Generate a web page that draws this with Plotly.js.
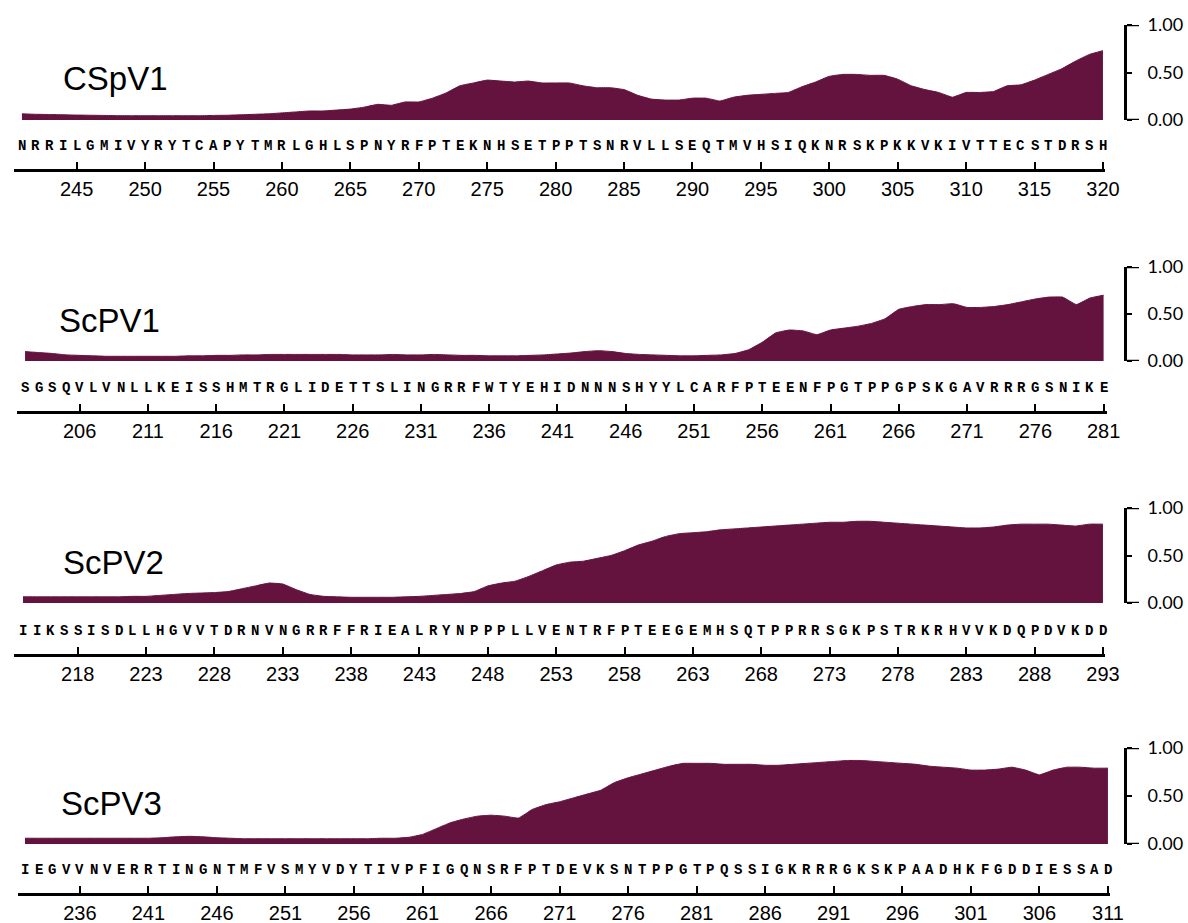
<!DOCTYPE html>
<html>
<head>
<meta charset="utf-8">
<script src="https://cdn.plot.ly/plotly-3.0.1.min.js"></script>
<style>html,body{margin:0;padding:0;background:#fff;}#chart{width:1188px;height:923px;}</style>
</head>
<body>
<div id="chart"></div>
<script>
// ---------- DATA ----------
const names = ["CSpV1", "ScPV1", "ScPV2", "ScPV3"];
const starts = [241, 202, 214, 232];

const seqCSpV1 = "NRRILGMIVYRYTCAPYTMRLGHLSPNYRFPTEKNHSETPPTSNRVLLSEQTMVHSIQKNRSKPKKVKIVTTECSTDRSH";
const seqScPV1 = "SGSQVLVNLLKEISSHMTRGLIDETTSLINGRRFWTYEHIDNNNSHYYLCARFPTEENFPGTPPGPSKGAVRRRGSNIKE";
const seqScPV2 = "IIKSSISDLLHGVVTDRNVNGRRFFRIEALRYNPPPLLVENTRFPTEEGEMHSQTPPRRSGKPSTRKRHVVKDQPDVKDD";
const seqScPV3 = "IEGVVNVERRTINGNTMFVSMYVDYTIVPFIGQNSRFPTDEVKSNTPPGTPQSSIGKRRRGKSKPAADHKFGDDIESSAD";

const valsCSpV1 = [0.065,0.06,0.058,0.055,0.052,0.05,0.048,0.046,0.045,0.045,
  0.045,0.045,0.045,0.045,0.048,0.05,0.055,0.06,0.065,0.075,
  0.085,0.095,0.095,0.105,0.115,0.135,0.165,0.155,0.19,0.19,
  0.23,0.285,0.36,0.39,0.42,0.41,0.40,0.41,0.39,0.39,
  0.39,0.36,0.34,0.34,0.32,0.26,0.22,0.21,0.21,0.23,
  0.23,0.20,0.24,0.26,0.27,0.28,0.29,0.35,0.40,0.46,
  0.48,0.48,0.47,0.47,0.43,0.36,0.32,0.29,0.24,0.29,
  0.29,0.30,0.36,0.37,0.42,0.48,0.54,0.62,0.69,0.73];
const valsScPV1 = [0.10,0.09,0.08,0.065,0.06,0.055,0.05,0.05,0.05,0.05,
  0.05,0.05,0.055,0.055,0.06,0.06,0.065,0.065,0.07,0.07,
  0.07,0.07,0.07,0.07,0.065,0.065,0.065,0.07,0.065,0.065,
  0.07,0.065,0.06,0.06,0.055,0.055,0.055,0.06,0.065,0.075,
  0.085,0.10,0.11,0.10,0.08,0.07,0.065,0.06,0.055,0.055,
  0.06,0.065,0.08,0.12,0.20,0.30,0.33,0.32,0.28,0.33,
  0.35,0.37,0.40,0.45,0.55,0.58,0.60,0.60,0.61,0.57,
  0.57,0.58,0.60,0.63,0.66,0.68,0.68,0.60,0.67,0.70];
const valsScPV2 = [0.065,0.065,0.065,0.065,0.065,0.065,0.065,0.065,0.07,0.07,
  0.08,0.09,0.10,0.105,0.11,0.12,0.15,0.18,0.21,0.20,
  0.14,0.09,0.07,0.065,0.06,0.06,0.06,0.06,0.065,0.07,
  0.08,0.09,0.10,0.12,0.18,0.21,0.23,0.28,0.34,0.40,
  0.43,0.44,0.47,0.50,0.55,0.61,0.65,0.70,0.73,0.74,
  0.75,0.77,0.78,0.79,0.80,0.81,0.82,0.83,0.84,0.85,
  0.85,0.86,0.86,0.85,0.84,0.83,0.82,0.81,0.80,0.79,
  0.79,0.80,0.82,0.83,0.83,0.83,0.82,0.81,0.83,0.83];
const valsScPV3 = [0.06,0.06,0.06,0.06,0.06,0.06,0.06,0.06,0.06,0.06,
  0.065,0.075,0.08,0.075,0.065,0.06,0.055,0.055,0.055,0.055,
  0.055,0.055,0.055,0.055,0.055,0.055,0.06,0.06,0.07,0.10,
  0.16,0.22,0.26,0.29,0.30,0.29,0.27,0.36,0.41,0.44,
  0.48,0.52,0.56,0.64,0.69,0.73,0.77,0.81,0.84,0.84,
  0.84,0.83,0.83,0.83,0.82,0.82,0.83,0.84,0.85,0.86,
  0.87,0.87,0.86,0.85,0.84,0.83,0.81,0.80,0.79,0.77,
  0.77,0.78,0.80,0.77,0.72,0.77,0.80,0.80,0.79,0.79];

const seqs = [seqCSpV1, seqScPV1, seqScPV2, seqScPV3];
const vals = [valsCSpV1, valsScPV1, valsScPV2, valsScPV3];
const yTickVals = [0, 0.5, 1];
const yTickText = ["0.00", "0.50", "1.00"];

// ---------- LAYOUT GEOMETRY (pixels) ----------
const W = 1188, H = 923;
const geom = [
  {top: 25,  base: 120, seqY: 146, axisY: 170, labX: 61, labY: 78,  dom: [14, 1105], range: [240.42, 320.15]},
  {top: 267, base: 361, seqY: 388, axisY: 412, labX: 57, labY: 321, dom: [17, 1107], range: [201.41, 281.25]},
  {top: 508, base: 603, seqY: 631, axisY: 655, labX: 61, labY: 562, dom: [14, 1105], range: [213.34, 293.15]},
  {top: 748, base: 844, seqY: 870, axisY: 894, labX: 59, labY: 803, dom: [18, 1110], range: [231.49, 311.15]}
];
const px = x => x / W;
const py = y => 1 - y / H;
const COLOR = "#63133d";

const traces = [];
const annotations = [];
const shapes = [];
const layout = {
  width: W, height: H, autosize: false,
  margin: {l: 0, r: 0, t: 0, b: 0},
  paper_bgcolor: "#fff", plot_bgcolor: "rgba(0,0,0,0)",
  showlegend: false,
  annotations: annotations,
  shapes: shapes
};

for (let k = 0; k < 4; k++) {
  const g = geom[k];
  const n = vals[k].length;
  const xs = vals[k].map((_, i) => starts[k] + i);
  const xa = k === 0 ? "x" : "x" + (k + 1);
  const ya = k === 0 ? "y" : "y" + (k + 1);
  const xName = k === 0 ? "xaxis" : "xaxis" + (k + 1);
  const yName = k === 0 ? "yaxis" : "yaxis" + (k + 1);

  traces.push({
    type: "scatter", mode: "lines", x: xs, y: vals[k],
    xaxis: xa, yaxis: ya,
    fill: "tozeroy", fillcolor: COLOR,
    line: {color: COLOR, width: 1, shape: "spline", smoothing: 0.3},
    hoverinfo: "skip"
  });

  const tickvals = [];
  for (let v = starts[k] + 4; v <= starts[k] + n - 1; v += 5) tickvals.push(v);

  layout[xName] = {
    domain: [px(g.dom[0]), px(g.dom[1])],
    range: g.range,
    anchor: "free",
    position: py(g.axisY),
    showgrid: false, zeroline: false,
    showline: true, linecolor: "#000", linewidth: 3,
    ticks: "inside", ticklen: 7, tickwidth: 2, tickcolor: "#000",
    tickmode: "array", tickvals: tickvals, ticktext: tickvals.map(String),
    tickfont: {family: "Liberation Sans, Arial, sans-serif", size: 20, color: "#000"},
    ticklabelstandoff: 0,
    fixedrange: true
  };
  layout[yName] = {
    domain: [py(g.base), py(g.top)],
    range: [0, 1],
    anchor: "free",
    position: px(1125),
    side: "right",
    showgrid: false, zeroline: false,
    showline: true, linecolor: "#000", linewidth: 3,
    ticks: "outside", ticklen: 5, tickwidth: 2, tickcolor: "#000",
    tickmode: "array", tickvals: yTickVals, ticktext: yTickText,
    tickfont: {family: "Lato, Open Sans, sans-serif", size: 18, color: "#000"},
    ticklabelstandoff: 12,
    fixedrange: true
  };
  // longer end ticks of the bracket-shaped y axis
  [0, 1].forEach(v => shapes.push({
    type: "line", xref: "paper", yref: ya, x0: px(1124), x1: px(1139), y0: v, y1: v,
    line: {color: "#000", width: 2.5}
  }));

  // panel name
  annotations.push({
    text: names[k], xref: "paper", yref: "paper",
    x: px(g.labX), y: py(g.labY), xanchor: "left", yanchor: "middle",
    showarrow: false,
    font: {family: "Liberation Sans, Arial, sans-serif", size: 33, color: "#000"}
  });
  // sequence letters
  for (let i = 0; i < seqs[k].length; i++) {
    annotations.push({
      text: seqs[k][i], xref: xa, yref: "paper",
      x: starts[k] + i, y: py(g.seqY), xanchor: "center", yanchor: "middle",
      showarrow: false,
      font: {family: "Liberation Mono, Courier New, monospace", size: 14, color: "#000", weight: "bold"}
    });
  }
}

Plotly.newPlot("chart", traces, layout, {staticPlot: true, displayModeBar: false});
</script>
</body>
</html>
